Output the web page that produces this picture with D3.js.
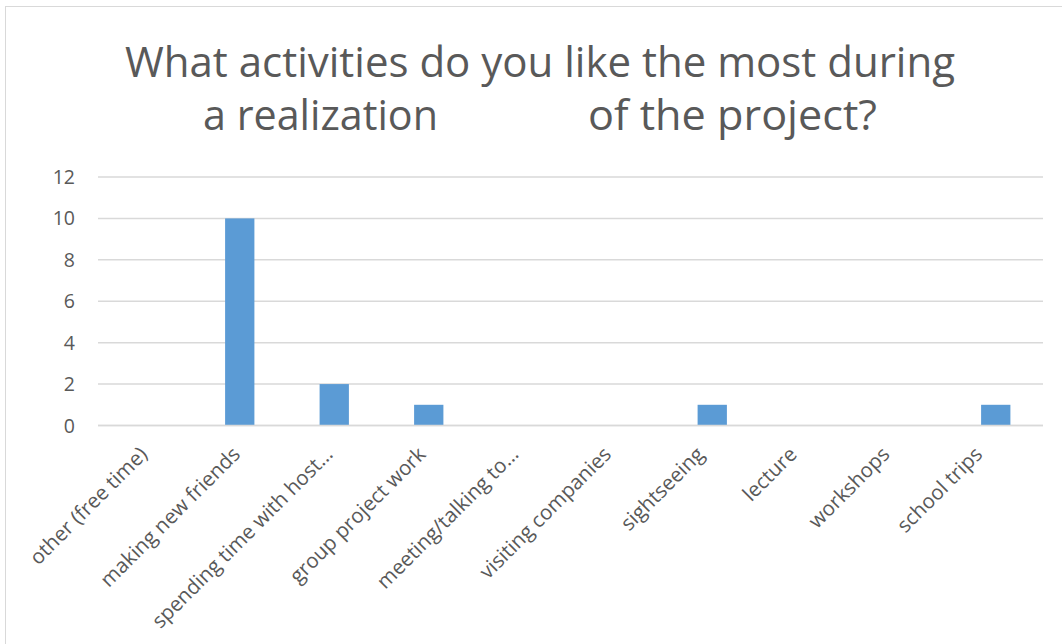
<!DOCTYPE html>
<html>
<head>
<meta charset="utf-8">
<script src="https://cdn.jsdelivr.net/npm/d3@7"></script>
<style>
  html, body { margin: 0; padding: 0; background: #fff; }
  svg { display: block; }
</style>
</head>
<body>
<div id="chart"></div>
<script>
// chart data
const categories = [
    "other (free time)",
    "making new friends",
    "spending time with host…",
    "group project work",
    "meeting/talking to…",
    "visiting companies",
    "sightseeing",
    "lecture",
    "workshops",
    "school trips"
];
const counts = [0, 10, 2, 1, 0, 0, 1, 0, 0, 1];
const yTicks = [0, 2, 4, 6, 8, 10, 12];
const titleLines = ["What activities do you like the most during", "a realization", "of the project?"];

const width = 1062, height = 644;
const margin = { top: 177, right: 19, bottom: 218, left: 98 };
const font = "'Open Sans', 'Liberation Sans', sans-serif";
const textColor = "#595959";

const svg = d3.select("#chart").append("svg")
    .attr("width", width)
    .attr("height", height);

// chart frame
svg.append("rect")
    .attr("x", 5.5)
    .attr("y", 6.5)
    .attr("width", width + 20)
    .attr("height", height + 20)
    .attr("fill", "#fff")
    .attr("stroke", "#d9d9d9")
    .attr("stroke-width", 1);

// title, squeezed to the original's narrow lettering
svg.append("text")
    .attr("x", 540)
    .attr("y", 77)
    .attr("text-anchor", "middle")
    .attr("textLength", 830)
    .attr("lengthAdjust", "spacingAndGlyphs")
    .style("font-family", font)
    .style("font-size", "42px")
    .style("fill", textColor)
    .text(titleLines[0]);

const t2 = svg.append("text")
    .attr("y", 130)
    .style("font-family", font)
    .style("font-size", "42px")
    .style("fill", textColor);
t2.append("tspan").attr("x", 203).attr("textLength", 235).attr("lengthAdjust", "spacingAndGlyphs").text(titleLines[1]);
t2.append("tspan").attr("x", 588).attr("textLength", 289).attr("lengthAdjust", "spacingAndGlyphs").text(titleLines[2]);

const innerW = width - margin.left - margin.right;

const g = svg.append("g")
    .attr("transform", `translate(${margin.left},${margin.top})`);

const x = d3.scaleBand()
    .domain(categories)
    .range([0, innerW])
    .paddingInner(0.69)
    .paddingOuter(0.345);

// category labels sit on a slightly tighter spacing than the bars
const xLabel = d3.scalePoint()
    .domain(categories)
    .range([45.5, 880.5]);

const y = d3.scaleLinear()
    .domain([0, 12])
    .range([248.5, 0]);

// gridlines
g.selectAll(".grid")
    .data(yTicks)
    .join("line")
    .attr("class", "grid")
    .attr("x1", 0)
    .attr("x2", innerW)
    .attr("y1", d => y(d))
    .attr("y2", d => y(d))
    .attr("stroke", "#d9d9d9")
    .attr("stroke-width", 1.5);

// y tick labels
g.selectAll(".ytick")
    .data(yTicks)
    .join("text")
    .attr("class", "ytick")
    .attr("x", -23)
    .attr("y", d => y(d))
    .attr("dy", "0.36em")
    .attr("text-anchor", "end")
    .style("font-family", font)
    .style("font-size", "19.5px")
    .style("fill", textColor)
    .text(d => d);

// bars
g.selectAll(".bar")
    .data(counts)
    .join("rect")
    .attr("class", "bar")
    .attr("x", (d, i) => x(categories[i]))
    .attr("width", x.bandwidth())
    .attr("y", d => y(d))
    .attr("height", d => y(0) - y(d))
    .attr("fill", "#5b9bd5");

// baseline on top of the bars
g.append("line")
    .attr("x1", 0)
    .attr("x2", innerW)
    .attr("y1", y(0))
    .attr("y2", y(0))
    .attr("stroke", "#d9d9d9")
    .attr("stroke-width", 1.5);

// rotated category labels
g.selectAll(".xlabel")
    .data(categories)
    .join("text")
    .attr("class", "xlabel")
    .attr("transform", d => `translate(${xLabel(d)},${y(0) + 25}) rotate(-45)`)
    .attr("text-anchor", "end")
    .attr("dy", "0.35em")
    .style("font-family", font)
    .style("font-size", "20.5px")
    .style("fill", textColor)
    .text(d => d);
</script>
</body>
</html>
